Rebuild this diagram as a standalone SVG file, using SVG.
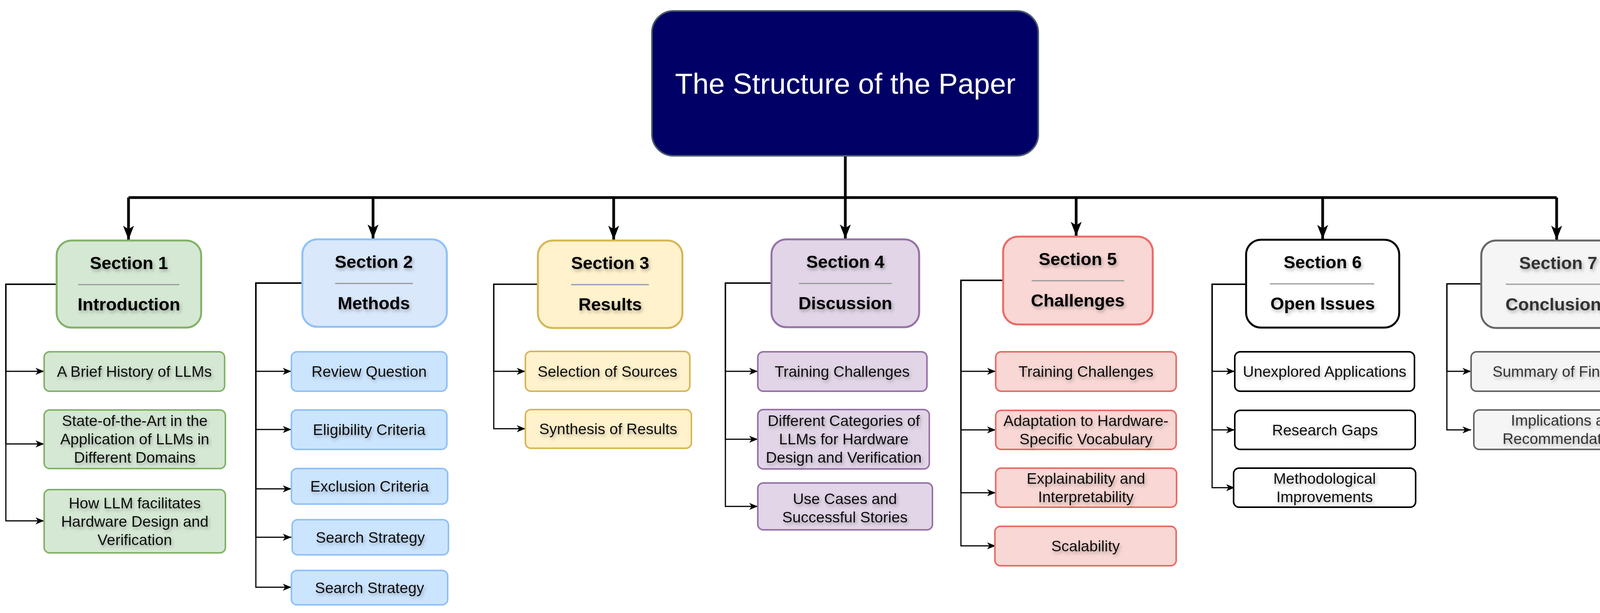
<svg xmlns="http://www.w3.org/2000/svg" width="4269" height="1570" viewBox="0 0 4269 1570">
<defs>
<marker id="big" markerUnits="userSpaceOnUse" markerWidth="40" markerHeight="40" viewBox="0 0 40 40" refX="36" refY="20" orient="auto"><path d="M0,6 L36,20 L0,34 L9,20 Z" fill="#000"/></marker>
<marker id="sm" markerUnits="userSpaceOnUse" markerWidth="24" markerHeight="24" viewBox="0 0 24 24" refX="22" refY="12" orient="auto"><path d="M0,3 L22,12 L0,21 L6,12 Z" fill="#000"/></marker>
<filter id="sh" x="-10%" y="-30%" width="130%" height="170%"><feDropShadow dx="3" dy="5" stdDeviation="4" flood-color="#000" flood-opacity="0.3"/></filter>
</defs>
<style>
text{font-family:"Liberation Sans",Arial,sans-serif;text-anchor:middle;filter:url(#sh)}
.h{font-size:45px;font-weight:bold;fill:#000}
.c{font-size:39px;fill:#111}
.sec{stroke-width:5}
.ch{stroke-width:4}
.sep{stroke:#999;stroke-width:3}
.bus{fill:none;stroke:#000;stroke-width:7}
.side{fill:none;stroke:#000;stroke-width:3;marker-end:url(#sm)}
.g1 rect{fill:#d5e8d4;stroke:#82b366}
.g2 rect{fill:#dae8fc;stroke:#8fc1f7}
.g2c rect{fill:#cce5ff;stroke:#8fc1f7}
.g3 rect{fill:#fff2cc;stroke:#d6b656}
.g4 rect{fill:#e1d5e7;stroke:#9673a6}
.g5 rect{fill:#f8d7d4;stroke:#ea6b66}
.g6 rect{fill:#fff;stroke:#000}
.g7 rect{fill:#f5f5f5;stroke:#666}
.g7 text{fill:#333}
</style>
<g id="connectors">
<path class="bus" d="M2164,399 V506"/>
<path class="bus" d="M329,506 H3985"/>
<path class="bus" marker-end="url(#big)" d="M329,506 V614"/>
<path class="bus" marker-end="url(#big)" d="M955,506 V611"/>
<path class="bus" marker-end="url(#big)" d="M1571,506 V614"/>
<path class="bus" marker-end="url(#big)" d="M2164,506 V611"/>
<path class="bus" marker-end="url(#big)" d="M2755,506 V604"/>
<path class="bus" marker-end="url(#big)" d="M3386,506 V612"/>
<path class="bus" marker-end="url(#big)" d="M3985,506 V614"/>
<path class="side" d="M145,728 H15 V951 H113"/>
<path class="side" d="M145,728 H15 V1137 H113"/>
<path class="side" d="M145,728 H15 V1334 H113"/>
<path class="side" d="M774,725 H655 V951 H746"/>
<path class="side" d="M774,725 H655 V1100 H746"/>
<path class="side" d="M774,725 H655 V1252 H746"/>
<path class="side" d="M774,725 H655 V1376 H746"/>
<path class="side" d="M774,725 H655 V1504 H746"/>
<path class="side" d="M1377,728 H1264 V951 H1345"/>
<path class="side" d="M1377,728 H1264 V1098 H1345"/>
<path class="side" d="M1975,725 H1857 V951 H1940"/>
<path class="side" d="M1975,725 H1857 V1125 H1940"/>
<path class="side" d="M1975,725 H1857 V1297 H1940"/>
<path class="side" d="M2568,718 H2460 V951 H2549"/>
<path class="side" d="M2568,718 H2460 V1101 H2549"/>
<path class="side" d="M2568,718 H2460 V1262 H2549"/>
<path class="side" d="M2568,718 H2460 V1398 H2549"/>
<path class="side" d="M3190,728 H3103 V951 H3161"/>
<path class="side" d="M3190,728 H3103 V1101 H3161"/>
<path class="side" d="M3190,728 H3103 V1249 H3161"/>
<path class="side" d="M3792,727 H3704 V951 H3766"/>
<path class="side" d="M3792,727 H3704 V1101 H3766"/>
</g>
<g id="root">
<rect x="1669" y="28" width="989" height="371" rx="55" fill="#000066" stroke="#4a5a6a" stroke-width="4"/>
<text x="2164" y="240" font-size="74" fill="#fff" style="filter:none">The Structure of the Paper</text>
</g>
<g id="s1" class="g1"><rect class="sec" x="145" y="616" width="370" height="223" rx="38"/><text class="h" x="330" y="689">Section 1</text><line class="sep" x1="200" y1="729" x2="459" y2="729"/><text class="h" x="330" y="795">Introduction</text></g>
<g id="s1a" class="g1"><rect class="ch" x="113" y="901" width="462" height="101" rx="14"/><text class="c" x="344" y="965">A Brief History of LLMs</text></g>
<g id="s1b" class="g1"><rect class="ch" x="113" y="1050" width="464" height="150" rx="14"/><text class="c" x="345" y="1091">State-of-the-Art in the</text><text class="c" x="345" y="1138">Application of LLMs in</text><text class="c" x="345" y="1185">Different Domains</text></g>
<g id="s1c" class="g1"><rect class="ch" x="113" y="1254" width="464" height="162" rx="14"/><text class="c" x="345" y="1302">How LLM facilitates</text><text class="c" x="345" y="1349">Hardware Design and</text><text class="c" x="345" y="1396">Verification</text></g>
<g id="s2" class="g2"><rect class="sec" x="774" y="613" width="370" height="224" rx="38"/><text class="h" x="957" y="686">Section 2</text><line class="sep" x1="858" y1="726" x2="1057" y2="726"/><text class="h" x="957" y="792">Methods</text></g>
<g id="s2a" class="g2c"><rect class="ch" x="746" y="901" width="398" height="101" rx="14"/><text class="c" x="945" y="965">Review Question</text></g>
<g id="s2b" class="g2c"><rect class="ch" x="746" y="1050" width="398" height="101" rx="14"/><text class="c" x="945" y="1114">Eligibility Criteria</text></g>
<g id="s2c" class="g2c"><rect class="ch" x="746" y="1200" width="400" height="91" rx="14"/><text class="c" x="946" y="1259">Exclusion Criteria</text></g>
<g id="s2d" class="g2c"><rect class="ch" x="748" y="1331" width="400" height="90" rx="14"/><text class="c" x="948" y="1390">Search Strategy</text></g>
<g id="s2e" class="g2c"><rect class="ch" x="746" y="1461" width="400" height="88" rx="14"/><text class="c" x="946" y="1519">Search Strategy</text></g>
<g id="s3" class="g3"><rect class="sec" x="1377" y="616" width="370" height="224" rx="38"/><text class="h" x="1562" y="689">Section 3</text><line class="sep" x1="1462" y1="729" x2="1661" y2="729" style="stroke:#8a9ab0"/><text class="h" x="1562" y="795">Results</text></g>
<g id="s3a" class="g3"><rect class="ch" x="1345" y="900" width="421" height="102" rx="14"/><text class="c" x="1555" y="965">Selection of Sources</text></g>
<g id="s3b" class="g3"><rect class="ch" x="1345" y="1049" width="425" height="99" rx="14"/><text class="c" x="1557" y="1112">Synthesis of Results</text></g>
<g id="s4" class="g4"><rect class="sec" x="1975" y="613" width="378" height="225" rx="38"/><text class="h" x="2164" y="686">Section 4</text><line class="sep" x1="2045" y1="726" x2="2283" y2="726"/><text class="h" x="2164" y="792">Discussion</text></g>
<g id="s4a" class="g4"><rect class="ch" x="1940" y="901" width="433" height="101" rx="14"/><text class="c" x="2156" y="965">Training Challenges</text></g>
<g id="s4b" class="g4"><rect class="ch" x="1940" y="1049" width="439" height="152" rx="14"/><text class="c" x="2160" y="1091">Different Categories of</text><text class="c" x="2160" y="1138">LLMs for Hardware</text><text class="c" x="2160" y="1185">Design and Verification</text></g>
<g id="s4c" class="g4"><rect class="ch" x="1940" y="1237" width="447" height="120" rx="14"/><text class="c" x="2163" y="1291">Use Cases and</text><text class="c" x="2163" y="1338">Successful Stories</text></g>
<g id="s5" class="g5"><rect class="sec" x="2568" y="606" width="383" height="225" rx="38"/><text class="h" x="2759" y="679">Section 5</text><line class="sep" x1="2641" y1="719" x2="2878" y2="719"/><text class="h" x="2759" y="785">Challenges</text></g>
<g id="s5a" class="g5"><rect class="ch" x="2549" y="901" width="462" height="101" rx="14"/><text class="c" x="2780" y="965">Training Challenges</text></g>
<g id="s5b" class="g5"><rect class="ch" x="2549" y="1051" width="462" height="100" rx="14"/><text class="c" x="2780" y="1091">Adaptation to Hardware-</text><text class="c" x="2780" y="1138">Specific Vocabulary</text></g>
<g id="s5c" class="g5"><rect class="ch" x="2549" y="1199" width="463" height="100" rx="14"/><text class="c" x="2780" y="1239">Explainability and</text><text class="c" x="2780" y="1286">Interpretability</text></g>
<g id="s5d" class="g5"><rect class="ch" x="2547" y="1348" width="464" height="101" rx="14"/><text class="c" x="2779" y="1412">Scalability</text></g>
<g id="s6" class="g6"><rect class="sec" x="3190" y="614" width="392" height="225" rx="38"/><text class="h" x="3386" y="687">Section 6</text><line class="sep" x1="3251" y1="727" x2="3518" y2="727"/><text class="h" x="3386" y="793">Open Issues</text></g>
<g id="s6a" class="g6"><rect class="ch" x="3161" y="901" width="460" height="101" rx="14"/><text class="c" x="3391" y="965">Unexplored Applications</text></g>
<g id="s6b" class="g6"><rect class="ch" x="3161" y="1051" width="462" height="100" rx="14"/><text class="c" x="3392" y="1115">Research Gaps</text></g>
<g id="s6c" class="g6"><rect class="ch" x="3158" y="1199" width="466" height="100" rx="14"/><text class="c" x="3391" y="1239">Methodological</text><text class="c" x="3391" y="1286">Improvements</text></g>
<g id="s7" class="g7"><rect class="sec" x="3792" y="616" width="394" height="224" rx="38"/><text class="h" x="3989" y="689" style="fill:#333">Section 7</text><line class="sep" x1="3855" y1="728" x2="4122" y2="728"/><text class="h" x="3989" y="795" style="fill:#333">Conclusions</text></g>
<g id="s7a" class="g7"><rect class="ch" x="3766" y="901" width="479" height="101" rx="14"/><text class="c" x="4005" y="965">Summary of Findings</text></g>
<g id="s7b" class="g7"><rect class="ch" x="3773" y="1050" width="472" height="101" rx="14"/><text class="c" x="4009" y="1090">Implications and</text><text class="c" x="4009" y="1137">Recommendations</text></g>
</svg>
